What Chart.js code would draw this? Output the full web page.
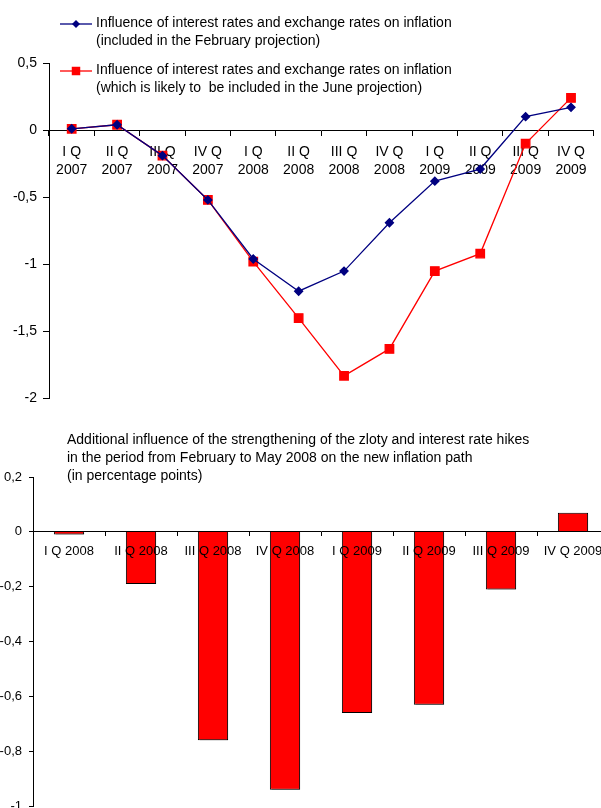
<!DOCTYPE html>
<html>
<head>
<meta charset="utf-8">
<script src="https://cdn.jsdelivr.net/npm/chart.js@4.4.1/dist/chart.umd.min.js"></script>
<style>
  html, body { margin: 0; padding: 0; background: #fff; overflow: hidden; width: 601px; height: 808px; }
  canvas { display: block; }
  #barChart { margin-top: -3px; }
</style>
</head>
<body>
<canvas id="lineChart" width="601" height="413"></canvas>
<canvas id="barChart" width="620" height="411"></canvas>
<script>
// top chart
const QUARTERS = ["I Q", "II Q", "III Q", "IV Q", "I Q", "II Q", "III Q", "IV Q", "I Q", "II Q", "III Q", "IV Q"];
const YEARS = ["2007", "2007", "2007", "2007", "2008", "2008", "2008", "2008", "2009", "2009", "2009", "2009"];
const FEBRUARY_PROJECTION = [0.01, 0.04, -0.19, -0.52, -0.96, -1.2, -1.05, -0.69, -0.38, -0.29, 0.1, 0.17];
const JUNE_PROJECTION = [0.01, 0.04, -0.19, -0.52, -0.98, -1.4, -1.83, -1.63, -1.05, -0.92, -0.1, 0.24];
const LABEL_FEBRUARY = ["Influence of interest rates and exchange rates on inflation", "(included in the February projection)"];
const LABEL_JUNE = ["Influence of interest rates and exchange rates on inflation", "(which is likely to  be included in the June projection)"];

// bottom chart
const BAR_LABELS = ["I Q 2008", "II Q 2008", "III Q 2008", "IV Q 2008", "I Q 2009", "II Q 2009", "III Q 2009", "IV Q 2009"];
const ADDITIONAL_INFLUENCE = [-0.01, -0.19, -0.76, -0.94, -0.66, -0.63, -0.21, 0.07];
const BAR_TITLE = [
  "Additional influence of the strengthening of the zloty and interest rate hikes",
  "in the period from February to May 2008 on the new inflation path",
  "(in percentage points)",
];

const FONT = '"Liberation Sans", Arial, sans-serif';
Chart.defaults.font.family = FONT;
Chart.defaults.color = "#000";

const comma = (v) => Number(Number(v).toFixed(1)).toString().replace(".", ",");

function marker(ctx, style, x, y, r, color) {
  ctx.fillStyle = color;
  ctx.beginPath();
  if (style === "rectRot") {
    ctx.moveTo(x - r, y);
    ctx.lineTo(x, y - r);
    ctx.lineTo(x + r, y);
    ctx.lineTo(x, y + r);
    ctx.closePath();
  } else {
    const s = r * Math.SQRT1_2;
    ctx.rect(x - s, y - s, 2 * s, 2 * s);
  }
  ctx.fill();
}

const legendPlugin = {
  id: "twoLineLegend",
  afterDatasetsDraw(chart) {
    const ctx = chart.ctx;
    const rows = [23, 70];
    ctx.save();
    ctx.font = "14px " + FONT;
    ctx.textBaseline = "middle";
    chart.data.datasets.forEach((ds, i) => {
      const y = rows[i];
      ctx.strokeStyle = ds.borderColor;
      ctx.lineWidth = 1.3;
      ctx.beginPath();
      ctx.moveTo(60, y + 1);
      ctx.lineTo(92, y + 1);
      ctx.stroke();
      marker(ctx, ds.pointStyle, 76, y + 1, ds.pointRadius, ds.backgroundColor);
      ctx.fillStyle = "#000";
      ds.label.forEach((line, j) => ctx.fillText(line, 96, y + j * 18));
    });
    ctx.restore();
  },
};

new Chart(document.getElementById("lineChart"), {
  type: "line",
  data: {
    labels: QUARTERS.map((q, i) => [q, YEARS[i]]),
    datasets: [
      {
        label: LABEL_FEBRUARY,
        data: FEBRUARY_PROJECTION,
        borderColor: "#000080",
        backgroundColor: "#000080",
        borderWidth: 1.3,
        pointStyle: "rectRot",
        pointRadius: 4,
        pointHoverRadius: 4,
      },
      {
        label: LABEL_JUNE,
        data: JUNE_PROJECTION,
        borderColor: "#ff0000",
        backgroundColor: "#ff0000",
        borderWidth: 1.3,
        pointStyle: "rect",
        pointRadius: 6,
        pointHoverRadius: 6,
      },
    ],
  },
  options: {
    responsive: false,
    animation: false,
    layout: { padding: { top: 63, right: 7, bottom: 9, left: 0 } },
    plugins: { legend: { display: false }, tooltip: { enabled: false } },
    scales: {
      x: {
        position: { y: 0 },
        offset: true,
        afterFit: (s) => { s.height = 0; },
        grid: { offset: true, drawOnChartArea: false, tickLength: 5, color: "#000" },
        border: { color: "#000", width: 1 },
        ticks: { font: { size: 14, lineHeight: 1.3 }, padding: 8, maxRotation: 0, autoSkip: false },
      },
      y: {
        min: -2,
        max: 0.5,
        afterFit: (s) => { s.width = 49; },
        grid: { drawOnChartArea: false, tickLength: 6, color: "#000" },
        border: { color: "#000", width: 1 },
        ticks: { stepSize: 0.5, font: { size: 14 }, padding: 6, callback: comma },
      },
    },
  },
  plugins: [legendPlugin],
});

const titlePlugin = {
  id: "leftTitle",
  beforeDatasetsDraw(chart) {
    // light grey drop shadow on the right of the bars
    const ctx = chart.ctx;
    ctx.save();
    ctx.shadowColor = "rgba(0,0,0,0.3)";
    ctx.shadowOffsetX = 2;
    ctx.shadowOffsetY = 1;
    ctx.shadowBlur = 0;
  },
  afterDatasetsDraw(chart) {
    chart.ctx.restore();
  },
  afterDraw(chart) {
    const ctx = chart.ctx;
    ctx.save();
    ctx.font = "14px " + FONT;
    ctx.fillStyle = "#000";
    ctx.textBaseline = "middle";
    BAR_TITLE.forEach((line, i) => ctx.fillText(line, 67, 30 + i * 18));
    ctx.restore();
  },
};

new Chart(document.getElementById("barChart"), {
  type: "bar",
  data: {
    labels: BAR_LABELS,
    datasets: [
      {
        data: ADDITIONAL_INFLUENCE,
        backgroundColor: "#ff0000",
        borderColor: "#000",
        borderWidth: 1,
        barPercentage: 0.42,
        categoryPercentage: 1,
      },
    ],
  },
  options: {
    responsive: false,
    animation: false,
    layout: { padding: { top: 67, right: 11, bottom: 0, left: 0 } },
    plugins: { legend: { display: false }, tooltip: { enabled: false } },
    scales: {
      x: {
        position: { y: 0 },
        afterFit: (s) => { s.height = 0; },
        grid: { offset: true, drawOnChartArea: false, tickLength: 4, color: "#000", z: 1 },
        border: { color: "#000", width: 1, z: 1 },
        ticks: { font: { size: 13 }, padding: 8, maxRotation: 0, autoSkip: false, z: 1 },
      },
      y: {
        min: -1,
        max: 0.2,
        afterFit: (s) => { s.width = 33; },
        grid: { drawOnChartArea: false, tickLength: 4, color: "#000" },
        border: { color: "#000", width: 1 },
        ticks: { stepSize: 0.2, font: { size: 13 }, padding: 7, callback: comma },
      },
    },
  },
  plugins: [titlePlugin],
});
</script>
</body>
</html>
